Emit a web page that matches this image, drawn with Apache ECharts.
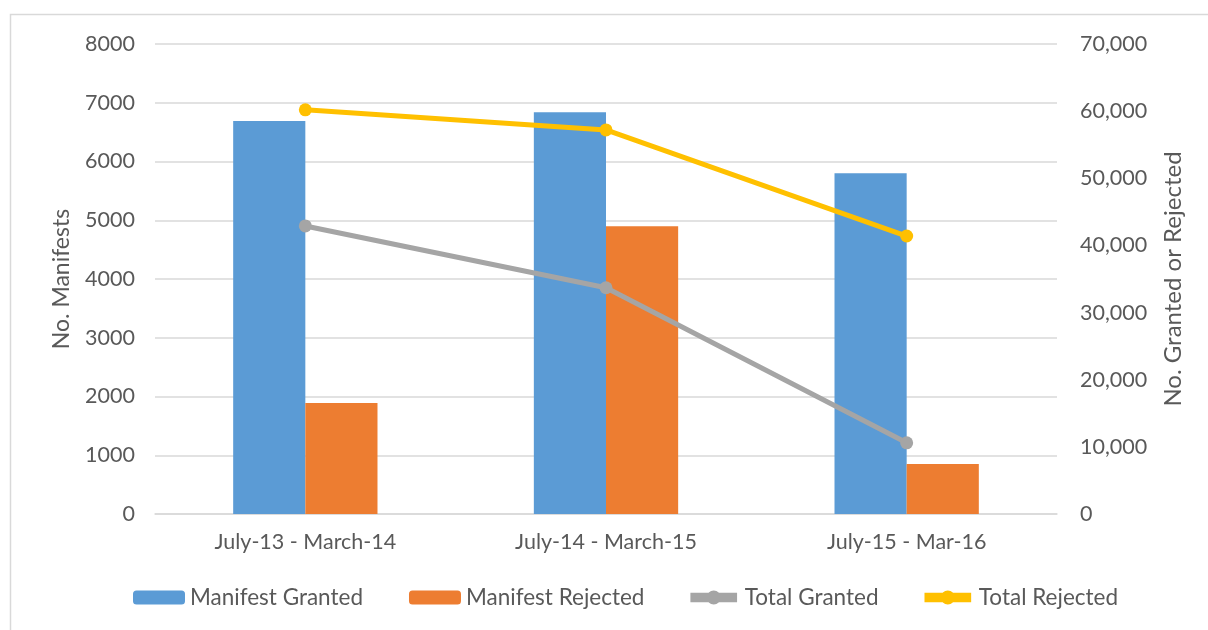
<!DOCTYPE html>
<html>
<head>
<meta charset="utf-8">
<script src="https://cdn.jsdelivr.net/npm/echarts@6/dist/echarts.min.js"></script>
<style>
  html, body { margin: 0; padding: 0; background: #fff; }
  #chart { width: 1208px; height: 630px; }
</style>
</head>
<body>
<div id="chart"></div>
<script>
// categories and values
const periods          = ['July-13 - March-14', 'July-14 - March-15', 'July-15 - Mar-16'];
const manifestGranted  = [6690, 6840, 5800];
const manifestRejected = [1890, 4900, 850];
const totalGranted     = [42900, 33700, 10600];
const totalRejected    = [60200, 57200, 41400];

const font = 'Lato, "Liberation Sans", sans-serif';
const txt  = '#595959';

let chart = echarts.init(document.getElementById('chart'), null, {renderer: 'canvas'});

// line icon for the legend: thick bar with a dot in the middle
const lineIcon = 'path://M0,5 L20,5 L20,9 L0,9 Z M13,7 A3,3 0 1 1 7,7 A3,3 0 1 1 13,7 Z';

let option = {
    animation: false,
    textStyle: {fontFamily: font},
    graphic: [{
        type: 'polyline',
        shape: {points: [[10.5, 630], [10.5, 14.5], [1208, 14.5]]},
        style: {fill: 'none', stroke: '#d9d9d9', lineWidth: 1.5},
        silent: true
    }],
    grid: {left: 155, right: 151, top: 44, bottom: 116},
    legend: {
        bottom: 16,
        left: 128,
        itemWidth: 52,
        itemHeight: 14,
        itemGap: 46,
        textStyle: {fontSize: 22.5, color: txt, fontFamily: font},
        data: [
            {name: 'Manifest Granted'},
            {name: 'Manifest Rejected'},
            {name: 'Total Granted', icon: lineIcon},
            {name: 'Total Rejected', icon: lineIcon}
        ]
    },
    xAxis: {
        type: 'category',
        data: periods,
        axisLine: {lineStyle: {color: '#d9d9d9', width: 1.5}},
        axisTick: {show: false},
        axisLabel: {fontSize: 21.5, color: txt, margin: 17}
    },
    yAxis: [{
        type: 'value',
        min: 0, max: 8000, interval: 1000,
        name: 'No. Manifests',
        nameLocation: 'middle',
        nameGap: 82,
        nameTextStyle: {fontSize: 23, color: txt},
        axisLabel: {
            fontSize: 21.5, color: txt, margin: 20,
            formatter: function(v){ return String(v); }
        },
        axisLine: {show: false},
        axisTick: {show: false},
        splitLine: {lineStyle: {color: '#d9d9d9', width: 1.5}}
    }, {
        type: 'value',
        min: 0, max: 70000, interval: 10000,
        name: 'No. Granted or Rejected',
        nameLocation: 'middle',
        nameGap: 104,
        nameTextStyle: {fontSize: 24, color: txt},
        axisLabel: {
            fontSize: 21.5, color: txt, margin: 23,
            formatter: function(v){ return v.toLocaleString('en-US'); }
        },
        axisLine: {show: false},
        axisTick: {show: false},
        splitLine: {show: false}
    }],
    series: [{
        name: 'Manifest Granted',
        type: 'bar',
        data: manifestGranted,
        barGap: '0%',
        barCategoryGap: '52%',
        itemStyle: {color: '#5b9bd5'}
    }, {
        name: 'Manifest Rejected',
        type: 'bar',
        data: manifestRejected,
        itemStyle: {color: '#ed7d31'}
    }, {
        name: 'Total Granted',
        type: 'line',
        yAxisIndex: 1,
        data: totalGranted,
        symbol: 'circle',
        symbolSize: 13,
        lineStyle: {color: '#a5a5a5', width: 5},
        itemStyle: {color: '#a5a5a5'}
    }, {
        name: 'Total Rejected',
        type: 'line',
        yAxisIndex: 1,
        data: totalRejected,
        symbol: 'circle',
        symbolSize: 13,
        lineStyle: {color: '#ffc000', width: 5},
        itemStyle: {color: '#ffc000'}
    }]
};

chart.setOption(option);
</script>
</body>
</html>
